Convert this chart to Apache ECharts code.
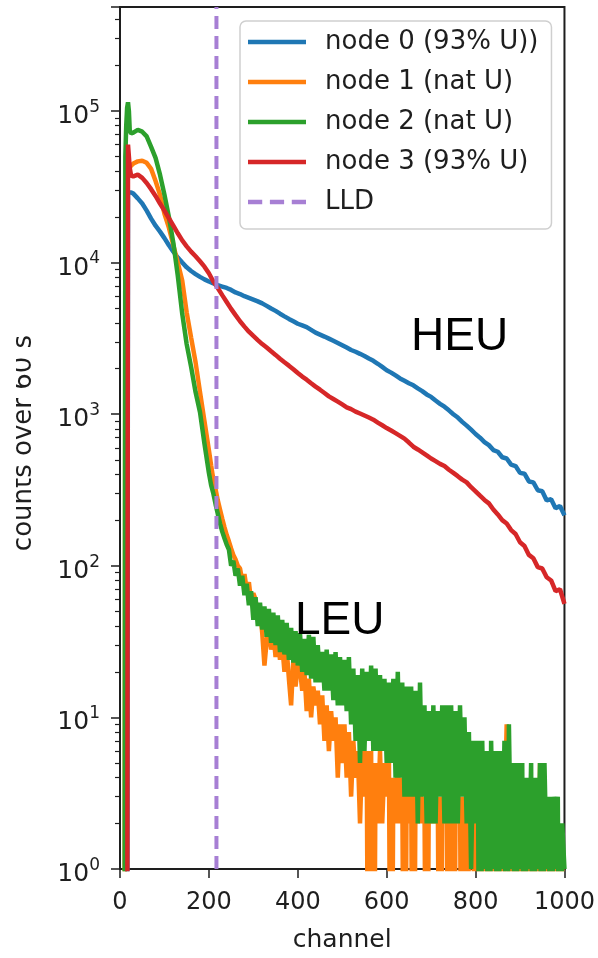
<!DOCTYPE html>
<html>
<head>
<meta charset="utf-8">
<script src="https://cdn.jsdelivr.net/npm/echarts@6/dist/echarts.min.js"></script>
<style>
  html, body { margin: 0; padding: 0; background: #fff; overflow: hidden; }
  #chart { width: 598px; height: 958px; }
</style>
</head>
<body>
<div id="chart"></div>
<script>
// y range of the log axis (counts)
const Y_MIN = 1;
const Y_MAX = 485000;
const LLD_CH = 217;

// matplotlib style minor ticks (2..9 per decade)
const MINOR_TICKS = [
  2, 3, 4, 5, 6, 7, 8, 9,
  20, 30, 40, 50, 60, 70, 80, 90,
  200, 300, 400, 500, 600, 700, 800, 900,
  2000, 3000, 4000, 5000, 6000, 7000, 8000, 9000,
  20000, 30000, 40000, 50000, 60000, 70000, 80000, 90000,
  200000, 300000, 400000
];

// channels for the two HEU nodes (smooth spectra)
const HEU_CH = [
  0, 10, 14, 16, 18, 20, 22, 25,
  30, 40, 50, 60, 70, 80, 90, 100, 110, 120, 130, 140, 150, 160, 170, 180, 190, 200,
  210, 220, 230, 240, 250, 260, 270, 280, 290, 300, 310, 320, 330, 340, 350, 360, 370, 380, 390, 400,
  410, 420, 430, 440, 450, 460, 470, 480, 490, 500, 510, 520, 530, 540, 550, 560, 570, 580, 590, 600,
  610, 620, 630, 640, 650, 660, 670, 680, 690, 700, 710, 720, 730, 740, 750, 760, 770, 780, 790, 800,
  810, 820, 830, 840, 850, 860, 870, 880, 890, 900, 910, 920, 930, 940, 950, 960, 970, 980, 990, 1000
];

const NODE0 = [
  0, 0, 0, 0, 29000, 29500, 29500, 29000,
  28500, 26500, 24500, 22000, 19500, 17500, 16000, 14500, 13000, 11800, 10800, 10000, 9300, 8800, 8400, 8050, 7750, 7500,
  7300, 7100, 6950, 6800, 6600, 6350, 6200, 6000, 5850, 5700, 5550, 5380, 5180, 4980, 4800, 4600, 4420, 4250, 4100, 3950,
  3850, 3750, 3600, 3450, 3350, 3250, 3150, 3050, 2950, 2850, 2750, 2650, 2580, 2500, 2420, 2330, 2250, 2150, 2050, 1950,
  1880, 1800, 1720, 1660, 1600, 1550, 1480, 1420, 1350, 1300, 1230, 1170, 1120, 1060, 1000, 950, 890, 840, 790, 740,
  700, 655, 625, 580, 565, 520, 510, 465, 455, 410, 405, 360, 355, 315, 310, 270, 275, 240, 248, 215
];

const NODE3 = [
  0, 0, 0, 0, 60000, 59000, 42000, 37500,
  37000, 38000, 36200, 33500, 30500, 27500, 24500, 22000, 19600, 17500, 15600, 14000, 12800, 11800, 11000, 10200, 9400, 8500,
  7500, 6800, 6100, 5500, 4950, 4500, 4100, 3780, 3500, 3280, 3080, 2900, 2750, 2600, 2460, 2320, 2200, 2090, 1980, 1870,
  1770, 1690, 1600, 1520, 1450, 1380, 1310, 1260, 1210, 1160, 1110, 1080, 1040, 1010, 980, 950, 920, 880, 845, 810,
  780, 750, 720, 690, 650, 610, 585, 560, 535, 510, 490, 470, 455, 430, 410, 390, 370, 355, 330, 310,
  290, 272, 258, 235, 218, 200, 190, 172, 162, 143, 135, 118, 112, 98, 96, 84, 80, 68, 70, 56
];

// channels for the two natural U nodes (noisy tails)
const LEU_CH = [
  0, 10, 12, 14, 16, 18, 20, 22, 25,
  30, 40, 50, 60, 70, 80, 90, 100, 110, 120, 130, 140, 150, 160, 170, 180, 190, 200,
  205, 210, 215, 220, 225, 230, 235, 240, 245, 250, 255, 260, 265, 270, 275, 280, 285, 290, 295, 300,
  305, 310, 315, 320, 325, 330, 335, 340, 345, 350, 355, 360, 365, 370, 375, 380, 385, 390, 395, 400,
  405, 410, 415, 420, 425, 430, 435, 440, 445, 450, 455, 460, 465, 470, 475, 480, 485, 490, 495, 500,
  505, 510, 515, 520, 525, 530, 535, 540, 545, 550, 555, 560, 565, 570, 575, 580, 585, 590, 595, 600,
  605, 610, 615, 620, 625, 630, 635, 640, 645, 650, 655, 660, 665, 670, 675, 680, 685, 690, 695, 700,
  705, 710, 715, 720, 725, 730, 735, 740, 745, 750, 755, 760, 765, 770, 775, 780, 785, 790, 795, 800,
  805, 810, 815, 820, 825, 830, 835, 840, 845, 850, 855, 860, 865, 870, 875, 880, 885, 890, 895, 900,
  905, 910, 915, 920, 925, 930, 935, 940, 945, 950, 955, 960, 965, 970, 975, 980, 985, 990, 995, 1000
];

const NODE1 = [
  0, 0, 28000, 34000, 38000, 40000, 41500, 42500, 43500,
  45000, 46500, 47000, 45500, 41500, 34500, 28000, 21000, 17000, 13000, 10000, 7600, 4700, 3200, 2200, 1400, 900, 580,
  460, 370, 320, 270, 235, 205, 180, 160, 145, 130, 118, 110, 100, 96, 80, 88, 70, 78, 58, 66,
  60, 45, 52, 36, 22, 32, 38, 28, 36, 25, 34, 24, 30, 20, 28, 18, 12, 24, 16, 22,
  21, 15, 20, 11, 18, 10, 16, 12, 15, 9, 14, 7, 12, 6, 11, 7, 10, 4, 9, 5,
  9, 4, 8, 3, 7, 4, 6, 2, 6, 3, 6, 0, 6, 0, 5, 2, 6, 2, 5, 3,
  6, 0, 4, 2, 5, 2, 4, 0, 4, 2, 4, 0, 4, 2, 4, 2, 3, 0, 4, 2,
  4, 2, 3, 0, 3, 2, 3, 0, 3, 0, 3, 2, 3, 0, 3, 0, 2, 2, 3, 0,
  2, 0, 1, 0, 1, 0, 2, 0, 1, 0, 1, 0, 2, 9, 1, 0, 2, 0, 1, 0,
  2, 0, 1, 0, 2, 0, 1, 0, 5, 0, 1, 0, 1, 0, 2, 0, 1, 0, 1, 0
];

const NODE2 = [
  0, 0, 50000, 80000, 105000, 114000, 100000, 74000, 71000,
  72000, 75000, 73000, 68000, 58000, 49000, 38000, 28000, 20000, 13500, 8200, 4600, 2900, 2050, 1400, 1030, 640, 410,
  340, 300, 255, 220, 190, 168, 152, 138, 128, 100, 108, 86, 96, 74, 86, 64, 76, 55, 68, 44,
  62, 40, 57, 38, 54, 34, 52, 31, 49, 30, 47, 27, 44, 26, 42, 24, 39, 23, 37, 22,
  36, 20, 33, 19, 35, 18, 34, 17, 30, 17, 27, 15, 28, 15, 26, 13, 27, 12, 25, 12,
  24, 11, 25, 9, 21, 7, 19, 5, 21, 6, 20, 7, 22, 6, 21, 6, 19, 6, 18, 5,
  17, 5, 18, 4, 20, 4, 17, 3, 16, 3, 16, 3, 15, 2, 17, 3, 12, 2, 11, 2,
  12, 2, 11, 3, 12, 2, 12, 2, 12, 2, 11, 2, 12, 3, 10, 2, 8, 1, 7, 2,
  7, 0, 7, 1, 6, 0, 7, 1, 6, 0, 6, 1, 7, 0, 9, 1, 5, 0, 5, 1,
  5, 0, 4, 1, 5, 0, 4, 1, 5, 0, 5, 1, 3, 0, 3, 1, 3, 0, 2, 1
];

const NAMES = ['node 0 (93% U))', 'node 1 (nat U)', 'node 2 (nat U)', 'node 3 (93% U)', 'LLD'];
const COLORS = ['#1f77b4', '#ff7f0e', '#2ca02c', '#d62728', '#a77fd4'];

// zero counts sit below the log axis, so push them off the bottom
const toPairs = (ch, vals) => ch.map((c, i) => [c, vals[i] > 0 ? vals[i] : 0.01]);

const INK = '#1e1e1e';
const LW = 4.5;
const SOLID_ICON = 'path://M0,0H58V4.5H0Z';
const DASH_ICON = 'path://M0,0H13V4.5H0Z M20,0H33V4.5H20Z M40,0H53V4.5H40Z';

function lineSeries(idx, ch, vals) {
  return {
    name: NAMES[idx],
    type: 'line',
    data: toPairs(ch, vals),
    symbol: 'none',
    showSymbol: false,
    silent: true,
    lineStyle: { color: COLORS[idx], width: LW },
    itemStyle: { color: COLORS[idx] },
  };
}

const chart = echarts.init(document.getElementById('chart'), null, { width: 598, height: 958 });

chart.setOption({
  animation: false,
  textStyle: { fontFamily: 'DejaVu Sans' },
  grid: {
    left: 120, top: 7, width: 447, height: 870,
    show: true, borderColor: INK, borderWidth: 2,
  },
  legend: {
    orient: 'vertical',
    left: 240,
    top: 21,
    padding: [8, 13, 14, 8],
    itemWidth: 58,
    itemHeight: 4.5,
    itemGap: 14,
    symbolKeepAspect: false,
    backgroundColor: '#fff',
    borderColor: '#cfcfcf',
    borderWidth: 1.5,
    borderRadius: 6,
    textStyle: {
      fontFamily: 'DejaVu Sans', fontSize: 26, color: INK,
      lineHeight: 26, padding: [0, 0, 0, 14],
    },
    data: NAMES.map((n, i) => ({ name: n, icon: i === 4 ? DASH_ICON : SOLID_ICON })),
  },
  xAxis: {
    type: 'value',
    min: 0,
    max: 1000,
    interval: 200,
    name: 'channel',
    nameLocation: 'middle',
    nameGap: 59,
    nameTextStyle: { fontSize: 25, color: INK },
    axisLine: { lineStyle: { color: INK, width: 2 } },
    axisTick: { length: 9, lineStyle: { color: INK, width: 1.5 } },
    axisLabel: { fontSize: 24, color: INK, margin: 22, formatter: (v) => String(v) },
    splitLine: { show: false },
  },
  yAxis: [
    {
      type: 'log',
      logBase: 10,
      min: Y_MIN,
      max: Y_MAX,
      axisLine: { show: true, lineStyle: { color: INK, width: 2 } },
      axisTick: { length: 9, lineStyle: { color: INK, width: 1.5 } },
      axisLabel: {
        margin: 20,
        padding: [6, 0, 0, 0],
        formatter: (v) => {
          const e = Math.log10(v);
          const n = Math.round(e);
          if (Math.abs(e - n) > 1e-6) return '';
          return '{b|10}{s|' + n + '}';
        },
        rich: {
          b: { fontSize: 25, color: INK, fontFamily: 'DejaVu Sans', lineHeight: 30, verticalAlign: 'bottom' },
          s: { fontSize: 17, color: INK, fontFamily: 'DejaVu Sans', lineHeight: 17, verticalAlign: 'top' },
        },
      },
      splitLine: { show: false },
    },
    {
      // carries only the minor ticks
      type: 'value',
      min: 0,
      max: Math.log10(Y_MAX),
      position: 'left',
      axisLine: { show: false },
      axisTick: {
        show: true,
        length: 5,
        customValues: MINOR_TICKS.map(Math.log10),
        lineStyle: { color: INK, width: 1.2 },
      },
      axisLabel: { show: false },
      splitLine: { show: false },
    },
  ],
  series: [
    lineSeries(0, HEU_CH, NODE0),
    lineSeries(1, LEU_CH, NODE1),
    lineSeries(2, LEU_CH, NODE2),
    lineSeries(3, HEU_CH, NODE3),
    {
      name: NAMES[4],
      type: 'line',
      data: [[LLD_CH, Y_MIN], [LLD_CH, Y_MAX]],
      symbol: 'none',
      silent: true,
      lineStyle: { color: COLORS[4], width: 4, type: [13, 7] },
      itemStyle: { color: COLORS[4] },
    },
  ],
  graphic: [
    {
      type: 'text', x: 411, y: 337, z: 50,
      style: { text: 'HEU', font: '46px "Liberation Sans"', fill: '#000', align: 'left', verticalAlign: 'middle' },
    },
    {
      type: 'text', x: 295, y: 621, z: 50,
      style: { text: 'LEU', font: '46px "Liberation Sans"', fill: '#000', align: 'left', verticalAlign: 'middle' },
    },
    {
      type: 'text', x: 24, y: 443, rotation: Math.PI / 2, z: 50,
      style: { text: 'counts over 60 s', font: '26px "DejaVu Sans"', fill: INK, align: 'center', verticalAlign: 'middle' },
    },
    {
      // the reference image is cropped through the axis title
      type: 'rect', z: 60,
      shape: { x: 0, y: 280, width: 16, height: 320 },
      style: { fill: '#fff' },
    },
  ],
});
</script>
</body>
</html>
